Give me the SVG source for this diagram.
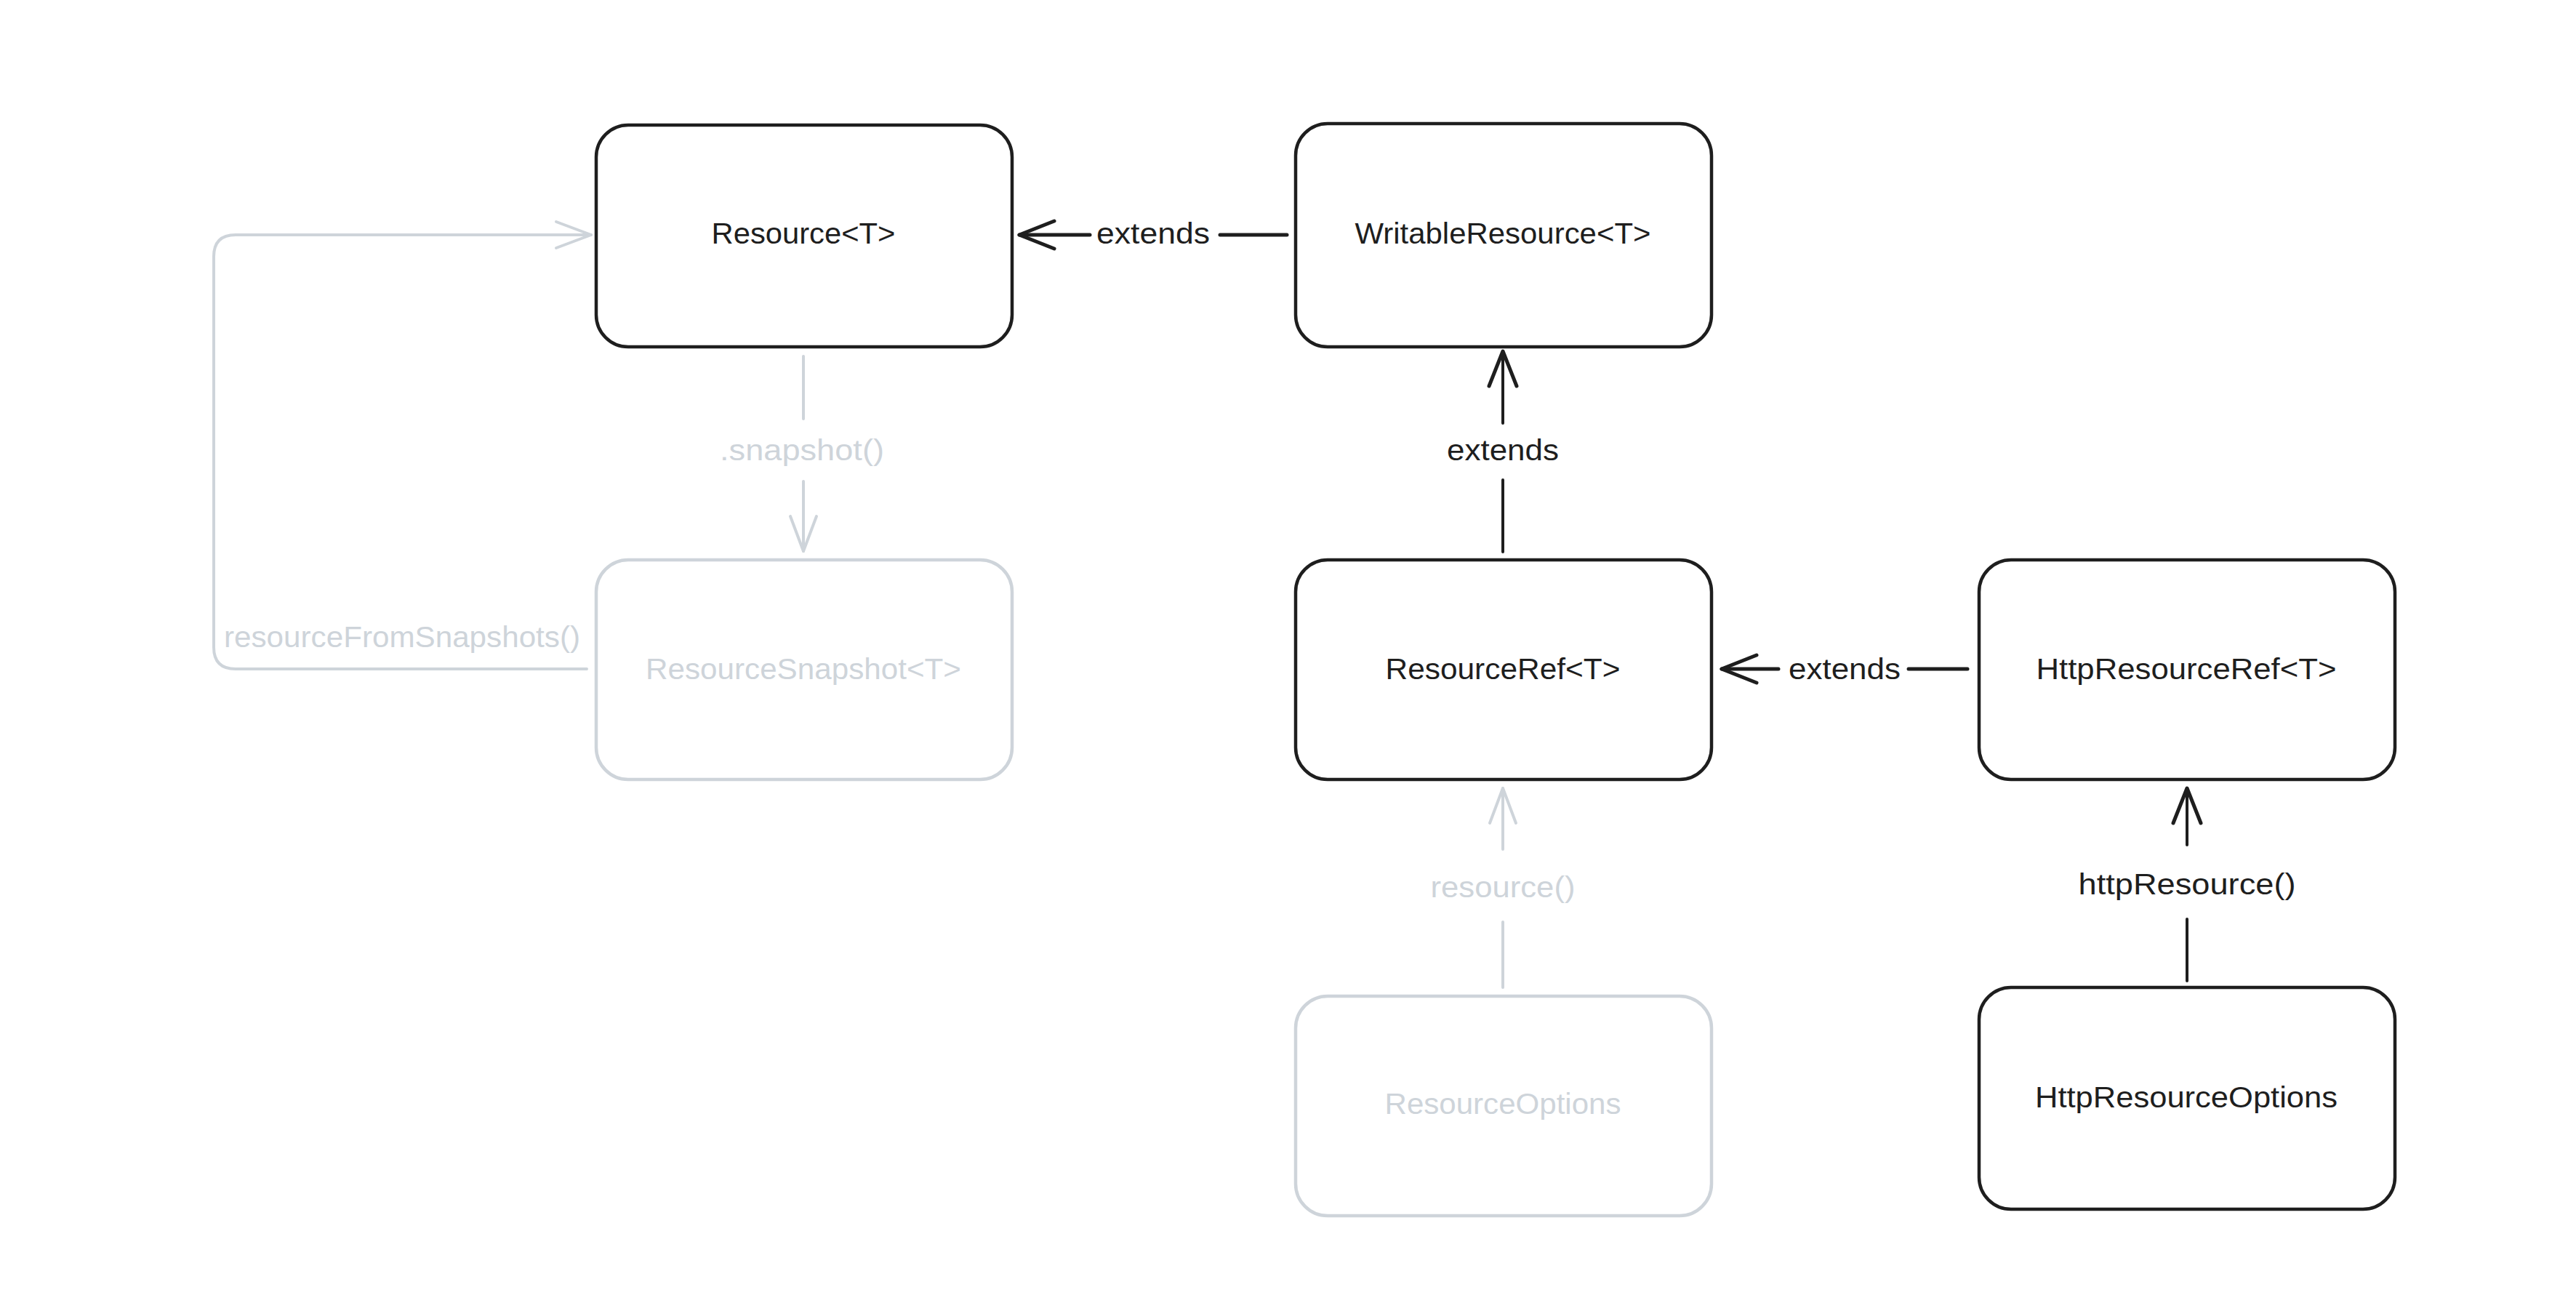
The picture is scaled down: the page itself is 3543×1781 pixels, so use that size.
<svg xmlns="http://www.w3.org/2000/svg" width="3543" height="1781" viewBox="0 0 3543 1781">
<style>
.box{fill:#ffffff;stroke:#1e1e1e;stroke-width:4.5}
.box.g{stroke:#ced4da}
.lbl{font-family:"Liberation Sans","Noto Sans",sans-serif;font-size:40px;fill:#1e1e1e;text-anchor:middle;dominant-baseline:central}
.lbl.g{fill:#ced4da}
.ln{fill:none;stroke:#1e1e1e;stroke-width:4;stroke-linecap:round;stroke-linejoin:round}
.ln.thick{stroke-width:5}
.ln.g{stroke:#ced4da;stroke-width:4}
</style>
<defs>
<marker id="ah" markerUnits="userSpaceOnUse" viewBox="-60 -30 70 60" refX="0" refY="0" markerWidth="70" markerHeight="60" orient="auto" overflow="visible">
<path d="M -48 -19 L 0 0 L -48 19" fill="none" stroke="#1e1e1e" stroke-width="5" stroke-linecap="round" stroke-linejoin="round"/>
</marker>
<marker id="ahg" markerUnits="userSpaceOnUse" viewBox="-60 -30 70 60" refX="0" refY="0" markerWidth="70" markerHeight="60" orient="auto" overflow="visible">
<path d="M -48 -18 L 0 0 L -48 18" fill="none" stroke="#ced4da" stroke-width="4" stroke-linecap="round" stroke-linejoin="round"/>
</marker>
</defs>
<rect width="3543" height="1781" fill="#ffffff"/>

<g id="connectors">
  <!-- WritableResource extends Resource -->
  <path class="ln thick" d="M 1499 323 L 1402 323" marker-end="url(#ah)"/>
  <path class="ln thick" d="M 1678 323 L 1770 323"/>
  <text class="lbl" x="1586" y="321" textLength="156" lengthAdjust="spacingAndGlyphs">extends</text>

  <!-- ResourceRef extends WritableResource -->
  <path class="ln" d="M 2067 759 L 2067 660"/>
  <path class="ln" d="M 2067 582 L 2067 483" marker-end="url(#ah)"/>
  <text class="lbl" x="2067" y="619" textLength="154" lengthAdjust="spacingAndGlyphs">extends</text>

  <!-- HttpResourceRef extends ResourceRef -->
  <path class="ln thick" d="M 2446 920 L 2368 920" marker-end="url(#ah)"/>
  <path class="ln thick" d="M 2625 920 L 2706 920"/>
  <text class="lbl" x="2537" y="920" textLength="154" lengthAdjust="spacingAndGlyphs">extends</text>

  <!-- Resource .snapshot() ResourceSnapshot -->
  <path class="ln g" d="M 1105 490 L 1105 576"/>
  <path class="ln g" d="M 1105 662 L 1105 758" marker-end="url(#ahg)"/>
  <text class="lbl g" x="1103" y="619" textLength="226" lengthAdjust="spacingAndGlyphs">.snapshot()</text>

  <!-- resourceFromSnapshots() loop -->
  <path class="ln g" d="M 807 920 L 324 920 Q 294 920 294 890 L 294 353 Q 294 323 324 323 L 813 323" marker-end="url(#ahg)"/>
  <text class="lbl g" x="553" y="876" textLength="490" lengthAdjust="spacingAndGlyphs">resourceFromSnapshots()</text>

  <!-- ResourceOptions resource() ResourceRef -->
  <path class="ln g" d="M 2067 1358 L 2067 1268"/>
  <path class="ln g" d="M 2067 1168 L 2067 1084" marker-end="url(#ahg)"/>
  <text class="lbl g" x="2067" y="1220" textLength="199" lengthAdjust="spacingAndGlyphs">resource()</text>

  <!-- HttpResourceOptions httpResource() HttpResourceRef -->
  <path class="ln" d="M 3008 1349 L 3008 1264"/>
  <path class="ln" d="M 3008 1162 L 3008 1084" marker-end="url(#ah)"/>
  <text class="lbl" x="3008" y="1216" textLength="299" lengthAdjust="spacingAndGlyphs">httpResource()</text>
</g>

<g id="node-resource">
  <rect class="box" x="820" y="172" width="572" height="305" rx="44"/>
  <text class="lbl" x="1105" y="321" textLength="253" lengthAdjust="spacingAndGlyphs">Resource&lt;T&gt;</text>
</g>
<g id="node-writable-resource">
  <rect class="box" x="1782" y="170" width="572" height="307" rx="44"/>
  <text class="lbl" x="2067" y="321" textLength="407" lengthAdjust="spacingAndGlyphs">WritableResource&lt;T&gt;</text>
</g>
<g id="node-resource-snapshot">
  <rect class="box g" x="820" y="770" width="572" height="302" rx="44"/>
  <text class="lbl g" x="1105" y="920" textLength="434" lengthAdjust="spacingAndGlyphs">ResourceSnapshot&lt;T&gt;</text>
</g>
<g id="node-resource-ref">
  <rect class="box" x="1782" y="770" width="572" height="302" rx="44"/>
  <text class="lbl" x="2067" y="920" textLength="323" lengthAdjust="spacingAndGlyphs">ResourceRef&lt;T&gt;</text>
</g>
<g id="node-http-resource-ref">
  <rect class="box" x="2722" y="770" width="572" height="302" rx="44"/>
  <text class="lbl" x="3007" y="920" textLength="413" lengthAdjust="spacingAndGlyphs">HttpResourceRef&lt;T&gt;</text>
</g>
<g id="node-resource-options">
  <rect class="box g" x="1782" y="1370" width="572" height="302" rx="44"/>
  <text class="lbl g" x="2067" y="1518" textLength="325" lengthAdjust="spacingAndGlyphs">ResourceOptions</text>
</g>
<g id="node-http-resource-options">
  <rect class="box" x="2722" y="1358" width="572" height="305" rx="44"/>
  <text class="lbl" x="3007" y="1509" textLength="416" lengthAdjust="spacingAndGlyphs">HttpResourceOptions</text>
</g>
</svg>
